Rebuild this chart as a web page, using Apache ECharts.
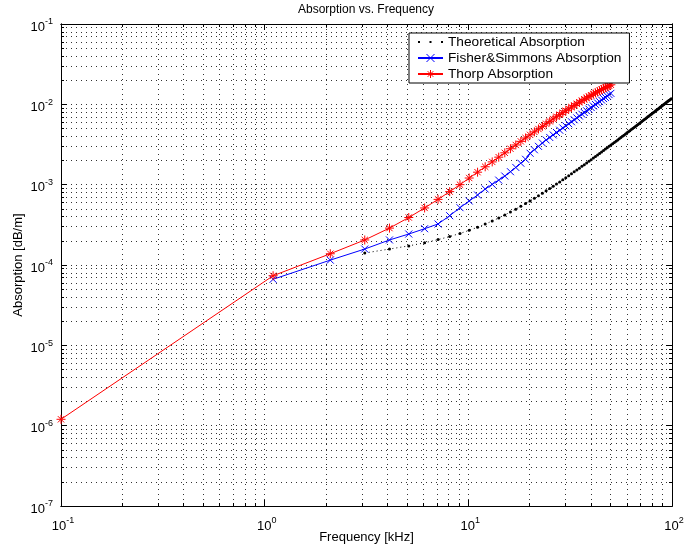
<!DOCTYPE html>
<html>
<head>
<meta charset="utf-8">
<script src="https://cdn.jsdelivr.net/npm/echarts@6/dist/echarts.min.js"></script>
<style>
  html, body { margin: 0; padding: 0; background: #fff; }
  #chart { width: 684px; height: 552px; }
</style>
</head>
<body>
<div id="chart"></div>
<script>
// frequencies in kHz
const freq = [0.1, 1.1, 2.1, 3.1, 4.1, 5.1, 6.1, 7.1, 8.1, 9.1, 10.1, 11.1, 12.1, 13.1, 14.1, 15.1, 16.1, 17.1, 18.1, 19.1,
  20.1, 21.1, 22.1, 23.1, 24.1, 25.1, 26.1, 27.1, 28.1, 29.1, 30.1, 31.1, 32.1, 33.1, 34.1, 35.1, 36.1, 37.1, 38.1, 39.1,
  40.1, 41.1, 42.1, 43.1, 44.1, 45.1, 46.1, 47.1, 48.1, 49.1, 50.1]

const thorp = [1.20e-6, 7.35e-5, 1.38e-4, 2.05e-4, 2.88e-4, 3.90e-4, 5.13e-4, 6.56e-4, 8.19e-4, 1.00e-3,
  1.21e-3, 1.43e-3, 1.67e-3, 1.92e-3, 2.20e-3, 2.49e-3, 2.80e-3, 3.12e-3, 3.46e-3, 3.81e-3,
  4.17e-3, 4.54e-3, 4.93e-3, 5.32e-3, 5.73e-3, 6.14e-3, 6.57e-3, 7.00e-3, 7.43e-3, 7.87e-3,
  8.32e-3, 8.77e-3, 9.23e-3, 9.69e-3, 1.015e-2, 1.062e-2, 1.108e-2, 1.155e-2, 1.201e-2, 1.248e-2,
  1.295e-2, 1.341e-2, 1.388e-2, 1.434e-2, 1.480e-2, 1.526e-2, 1.572e-2, 1.617e-2, 1.662e-2, 1.707e-2, 1.751e-2]

// no value at 0.1 kHz
const fisher = [null, 6.64e-5, 1.15e-4, 1.58e-4, 2.05e-4, 2.43e-4, 2.83e-4, 3.24e-4, 4.11e-4, 5.17e-4,
  6.26e-4, 7.43e-4, 8.83e-4, 1.01e-3, 1.14e-3, 1.28e-3, 1.45e-3, 1.64e-3, 1.85e-3, 2.07e-3,
  2.46e-3, 2.72e-3, 3.00e-3, 3.30e-3, 3.60e-3, 3.87e-3, 4.16e-3, 4.46e-3, 4.76e-3, 5.08e-3,
  5.40e-3, 5.73e-3, 6.07e-3, 6.43e-3, 6.78e-3, 7.15e-3, 7.53e-3, 7.91e-3, 8.30e-3, 8.71e-3,
  9.12e-3, 9.54e-3, 9.97e-3, 1.04e-2, 1.08e-2, 1.13e-2, 1.18e-2, 1.22e-2, 1.27e-2, 1.32e-2, 1.37e-2]

const theoFreq = [3.1, 4.1, 5.1, 6.1, 7.1, 8.1, 9.1, 10.1, 11.1, 12.1, 13.1, 14.1, 15.1, 16.1, 17.1, 18.1, 19.1,
  20.1, 21.1, 22.1, 23.1, 24.1, 25.1, 26.1, 27.1, 28.1, 29.1, 30.1, 31.1, 32.1, 33.1, 34.1, 35.1, 36.1, 37.1, 38.1, 39.1,
  40.1, 41.1, 42.1, 43.1, 44.1, 45.1, 46.1, 47.1, 48.1, 49.1, 50.1, 51.1, 52.1, 53.1, 54.1, 55.1, 56.1, 57.1, 58.1, 59.1,
  60.1, 61.1, 62.1, 63.1, 64.1, 65.1, 66.1, 67.1, 68.1, 69.1, 70.1, 71.1, 72.1, 73.1, 74.1, 75.1, 76.1, 77.1, 78.1, 79.1,
  80.1, 81.1, 82.1, 83.1, 84.1, 85.1, 86.1, 87.1, 88.1, 89.1, 90.1, 91.1, 92.1, 93.1, 94.1, 95.1, 96.1, 97.1, 98.1, 99.1]

const theo = [1.41e-4, 1.58e-4, 1.73e-4, 1.89e-4, 2.07e-4, 2.26e-4, 2.47e-4, 2.70e-4, 2.95e-4, 3.23e-4,
  3.53e-4, 3.85e-4, 4.20e-4, 4.57e-4, 4.96e-4, 5.38e-4, 5.82e-4, 6.28e-4, 6.77e-4, 7.28e-4,
  7.81e-4, 8.37e-4, 8.95e-4, 9.56e-4, 1.018e-3, 1.083e-3, 1.151e-3, 1.221e-3, 1.293e-3, 1.368e-3,
  1.445e-3, 1.524e-3, 1.606e-3, 1.690e-3, 1.776e-3, 1.865e-3, 1.956e-3, 2.049e-3, 2.145e-3, 2.243e-3,
  2.344e-3, 2.447e-3, 2.552e-3, 2.660e-3, 2.770e-3, 2.882e-3, 2.997e-3, 3.114e-3, 3.233e-3, 3.355e-3,
  3.479e-3, 3.605e-3, 3.734e-3, 3.866e-3, 3.999e-3, 4.135e-3, 4.273e-3, 4.414e-3, 4.557e-3, 4.702e-3,
  4.850e-3, 5.000e-3, 5.153e-3, 5.308e-3, 5.465e-3, 5.624e-3, 5.786e-3, 5.950e-3, 6.117e-3, 6.286e-3,
  6.457e-3, 6.631e-3, 6.807e-3, 6.985e-3, 7.166e-3, 7.349e-3, 7.535e-3, 7.723e-3, 7.913e-3, 8.105e-3,
  8.300e-3, 8.498e-3, 8.697e-3, 8.899e-3, 9.104e-3, 9.311e-3, 9.520e-3, 9.731e-3, 9.945e-3, 1.0161e-2,
  1.0380e-2, 1.0601e-2, 1.0824e-2, 1.1049e-2, 1.1277e-2, 1.1508e-2, 1.1740e-2]

// decade ticks
const xDecades = [0.1, 1, 10, 100]
const yDecades = [1e-7, 1e-6, 1e-5, 1e-4, 1e-3, 1e-2, 1e-1]

function minorTicks(decades) {
  const out = []
  for (let i = 0; i < decades.length - 1; i++) {
    for (let k = 1; k < 10; k++) out.push(+(decades[i] * k).toPrecision(3))
  }
  out.push(decades[decades.length - 1])
  return out
}
const xTicks = minorTicks(xDecades)
const yTicks = minorTicks(yDecades)

const FONT = 'Liberation Sans'
const gridLine = { show: true, lineStyle: { color: '#333', width: 1, type: [1, 4] } }

function decadeLabel(v) {
  const e = Math.round(Math.log10(v))
  return '{b|10}{s|' + e + '}'
}
// exponent raised with bottom padding
const labelRich = {
  b: { fontSize: 13, fontFamily: FONT, color: '#000' },
  s: { fontSize: 9, fontFamily: FONT, color: '#000', padding: [0, 0, 10, 0] }
}

function logX(extra) {
  return Object.assign({
    type: 'log', logBase: 10, min: 0.1, max: 100, gridIndex: 0,
    axisLine: { show: true, onZero: false, lineStyle: { color: '#000', width: 1 } },
    axisTick: { show: true, inside: true, length: 3, lineStyle: { color: '#000' }, customValues: xTicks },
    axisLabel: { show: false },
    splitLine: { show: false }
  }, extra)
}
function logY(extra) {
  return Object.assign({
    type: 'log', logBase: 10, min: 1e-7, max: 1e-1, gridIndex: 0,
    axisLine: { show: true, onZero: false, lineStyle: { color: '#000', width: 1 } },
    axisTick: { show: true, inside: true, length: 3, lineStyle: { color: '#000' }, customValues: yTicks },
    axisLabel: { show: false },
    splitLine: { show: false }
  }, extra)
}

const xMajorTick = { show: true, inside: true, length: 6, lineStyle: { color: '#000' }, customValues: xDecades }
const yMajorTick = { show: true, inside: true, length: 6, lineStyle: { color: '#000' }, customValues: yDecades }

const chart = echarts.init(document.getElementById('chart'))
chart.setOption({
  animation: false,
  backgroundColor: '#fff',
  title: {
    text: 'Absorption vs. Frequency',
    left: 366, top: 4, padding: 0, textAlign: 'center',
    textStyle: { fontSize: 12, fontWeight: 'normal', fontFamily: FONT, color: '#000' }
  },
  grid: { left: 61, right: 12, top: 24, bottom: 46, containLabel: false, outerBoundsMode: 'none' },
  legend: {
    orient: 'vertical',
    left: 409, top: 33,
    padding: [1.5, 8, 1.5, 8],
    backgroundColor: '#fff',
    borderColor: '#000', borderWidth: 1,
    itemWidth: 25, itemHeight: 10, itemGap: 1,
    itemStyle: { borderWidth: 1 },
    textStyle: { fontSize: 13.7, fontFamily: FONT, color: '#000', lineHeight: 15 },
    data: [
      { name: 'Theoretical Absorption', icon: 'path://M0,0M25,10M0,4L2,4L2,6L0,6ZM11.5,4L13.5,4L13.5,6L11.5,6ZM23,4L25,4L25,6L23,6Z' },
      'Fisher&Simmons Absorption',
      'Thorp Absorption'
    ]
  },
  xAxis: [
    logX({
      position: 'bottom',
      name: 'Frequency [kHz]', nameLocation: 'middle', nameGap: 25, nameMoveOverlap: false,
      nameTextStyle: { fontSize: 13, fontFamily: FONT, color: '#000' },
      splitLine: gridLine,
      axisLabel: {
        show: true, margin: 10.5, customValues: xDecades, padding: [0, 0, 0, 4],
        formatter: decadeLabel, rich: labelRich
      }
    }),
    logX({ position: 'top' }),
    logX({ position: 'bottom', axisTick: xMajorTick }),
    logX({ position: 'top', axisTick: xMajorTick })
  ],
  yAxis: [
    logY({
      position: 'left',
      name: 'Absorption [dB/m]', nameLocation: 'middle', nameGap: 36, nameMoveOverlap: false,
      nameTextStyle: { fontSize: 13, fontFamily: FONT, color: '#000' },
      splitLine: gridLine,
      axisLabel: {
        show: true, margin: 8, customValues: yDecades, padding: [6, 0, 0, 0],
        formatter: decadeLabel, rich: labelRich
      }
    }),
    logY({ position: 'right' }),
    logY({ position: 'left', axisTick: yMajorTick }),
    logY({ position: 'right', axisTick: yMajorTick })
  ],
  series: [
    {
      name: 'Theoretical Absorption',
      type: 'line',
      data: theoFreq.map((f, i) => [f, theo[i]]),
      symbol: 'circle', symbolSize: 3, showAllSymbol: true,
      itemStyle: { color: '#000' },
      lineStyle: { color: '#000', width: 1, type: [1, 3] }
    },
    {
      name: 'Fisher&Simmons Absorption',
      type: 'line',
      data: freq.map((f, i) => [f, fisher[i]]),
      symbol: 'path://M0,0L10,10M10,0L0,10', symbolSize: 7, showAllSymbol: true,
      itemStyle: { color: '#0000ff', borderColor: '#0000ff', borderWidth: 1 },
      lineStyle: { color: '#0000ff', width: 1 }
    },
    {
      name: 'Thorp Absorption',
      type: 'line',
      data: freq.map((f, i) => [f, thorp[i]]),
      symbol: 'path://M5,0L5,10M0,5L10,5M1.5,1.5L8.5,8.5M8.5,1.5L1.5,8.5', symbolSize: 9, showAllSymbol: true,
      itemStyle: { color: '#ff0000', borderColor: '#ff0000', borderWidth: 1 },
      lineStyle: { color: '#ff0000', width: 1 }
    }
  ]
})
</script>
</body>
</html>
